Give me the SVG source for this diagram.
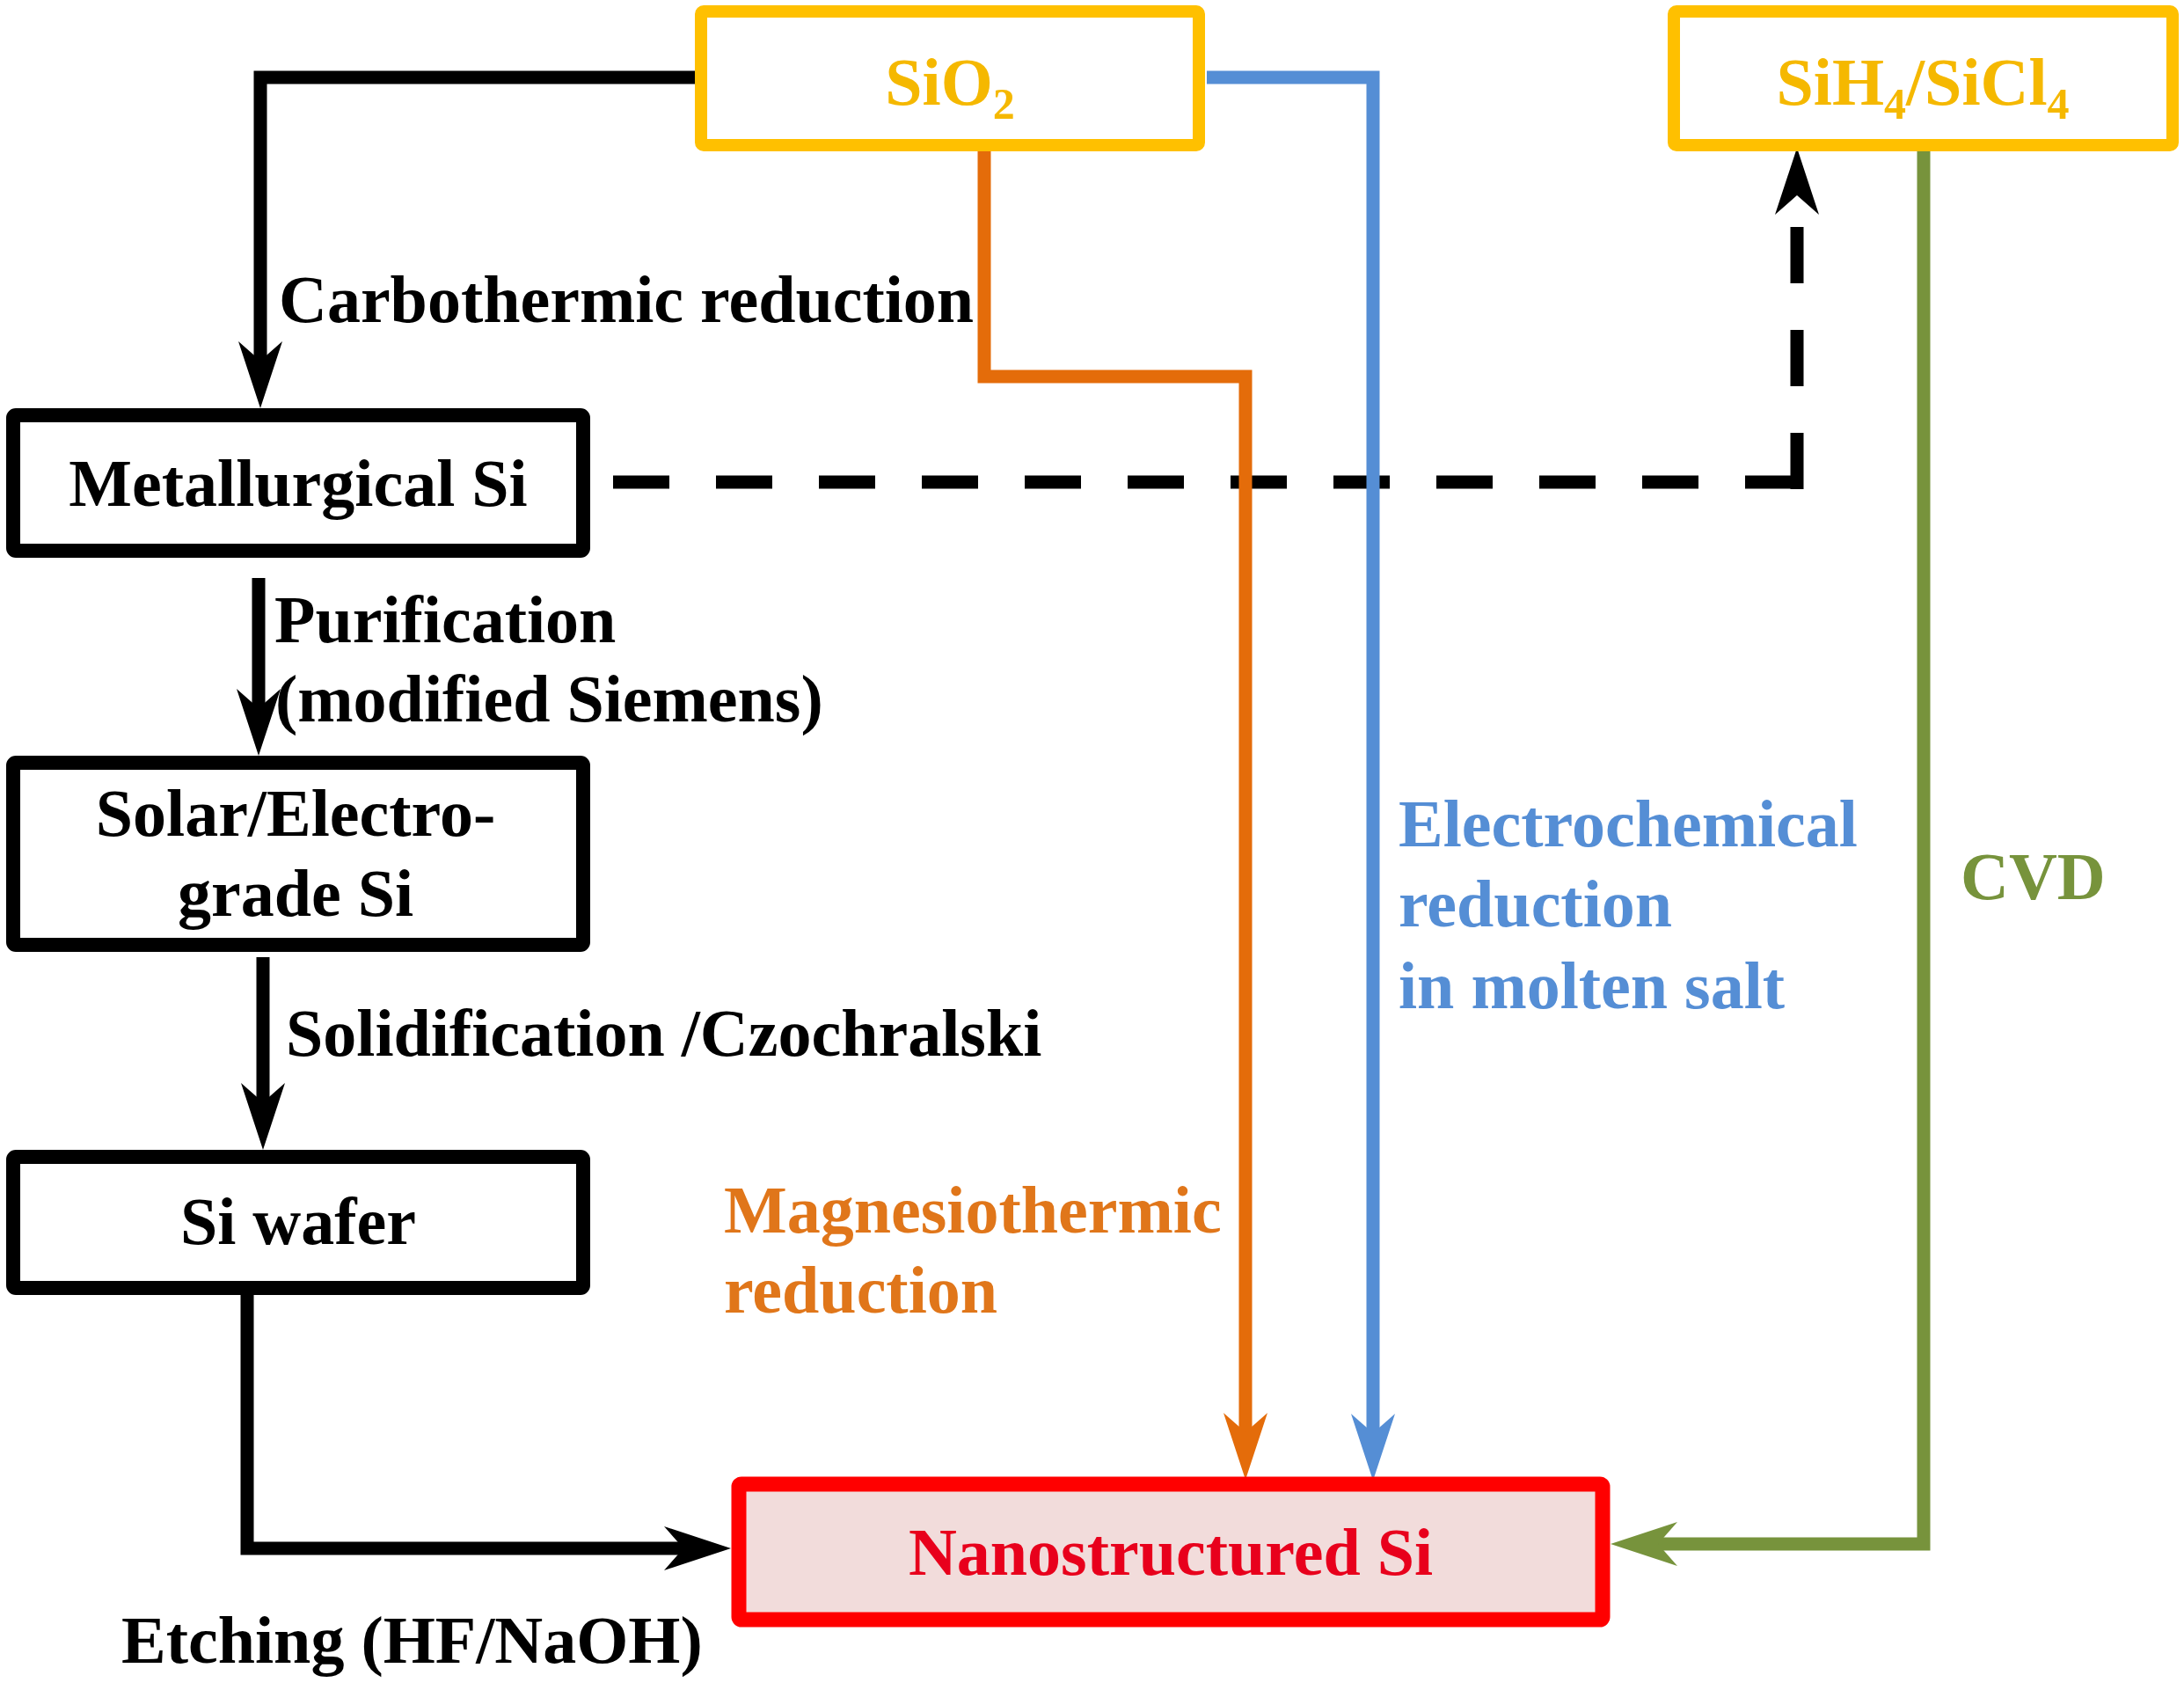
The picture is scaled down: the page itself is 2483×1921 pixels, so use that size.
<svg xmlns="http://www.w3.org/2000/svg" xmlns:xlink="http://www.w3.org/1999/xlink" width="2483" height="1921" viewBox="0 0 2483 1921">
<style>
  text { font-family: "Liberation Serif", "Times New Roman", serif; font-weight: bold; font-size: 76px; }
  .blk { fill: #000000; }
  .ylw { fill: #F5B800; }
  .org { fill: #E0761A; }
  .blu { fill: #558ED5; }
  .grn { fill: #77933C; }
  .red { fill: #E8001C; }
  .mid { text-anchor: middle; }
  .box { fill: #FFFFFF; stroke: #000000; stroke-width: 16; }
  .src { fill: #FFFFFF; stroke: #FFC000; stroke-width: 14; }
  .ln { fill: none; stroke-width: 15; stroke-linejoin: miter; stroke-linecap: butt; }
</style>
<defs>
  <path id="ah" d="M0,0 L-25,-76 L0,-54 L25,-76 Z"/>
</defs>
<rect x="0" y="0" width="2483" height="1921" fill="#FFFFFF"/>

<g id="connectors">
  <path class="ln" stroke="#000000" d="M790,88 H296 V425"/>
  <use xlink:href="#ah" fill="#000000" transform="translate(296,464)"/>
  <path class="ln" stroke="#000000" d="M294,657 V820"/>
  <use xlink:href="#ah" fill="#000000" transform="translate(294,859)"/>
  <path class="ln" stroke="#000000" d="M299,1088 V1270"/>
  <use xlink:href="#ah" fill="#000000" transform="translate(299,1307)"/>
  <path class="ln" stroke="#000000" d="M281,1472 V1760 H795"/>
  <use xlink:href="#ah" fill="#000000" transform="translate(831,1760) rotate(-90)"/>
  <path class="ln" stroke="#000000" stroke-width="17" stroke-dasharray="64 53" d="M697,548 H2051"/>
  <path class="ln" stroke="#000000" stroke-width="16" stroke-dasharray="64 53" d="M2043,556 V250"/>
  <use xlink:href="#ah" fill="#000000" transform="translate(2043,168) rotate(180)"/>
  <path class="ln" stroke="#E46C0A" d="M1119,172 V428 H1416 V1645"/>
  <use xlink:href="#ah" fill="#E46C0A" transform="translate(1416,1682)"/>
  <path class="ln" stroke="#558ED5" d="M1372,88 H1561 V1645"/>
  <use xlink:href="#ah" fill="#558ED5" transform="translate(1561,1683)"/>
  <path class="ln" stroke="#77933C" d="M2187,172 V1755 H1870"/>
  <use xlink:href="#ah" fill="#77933C" transform="translate(1831,1755) rotate(90)"/>
</g>

<g id="labels">
  <text class="blk" x="317" y="366">Carbothermic reduction</text>
  <text class="blk" x="312" y="730">Purification</text>
  <text class="blk" x="313" y="820">(modified Siemens)</text>
  <text class="blk" x="325" y="1200">Solidification /Czochralski</text>
  <text class="org" x="823" y="1401">Magnesiothermic</text>
  <text class="org" x="823" y="1492">reduction</text>
  <text class="blu" x="1590" y="962">Electrochemical</text>
  <text class="blu" x="1590" y="1053">reduction</text>
  <text class="blu" x="1590" y="1146">in molten salt</text>
  <text class="grn" x="2229" y="1022">CVD</text>
  <text class="blk" x="138" y="1890">Etching (HF/NaOH)</text>
</g>

<g id="node-sio2">
  <rect class="src" x="797" y="13" width="566" height="152" rx="3"/>
  <text class="ylw mid" x="1080" y="119">SiO<tspan font-size="50" dy="16">2</tspan></text>
</g>
<g id="node-sih4">
  <rect class="src" x="1903" y="13" width="567" height="152" rx="3"/>
  <text class="ylw mid" x="2186" y="119">SiH<tspan font-size="50" dy="16">4</tspan><tspan dy="-16">/SiCl</tspan><tspan font-size="50" dy="16">4</tspan></text>
</g>
<g id="node-metallurgical">
  <rect class="box" x="15" y="472" width="648" height="154" rx="3"/>
  <text class="blk mid" x="339" y="575">Metallurgical Si</text>
</g>
<g id="node-solar">
  <rect class="box" x="15" y="867" width="648" height="207" rx="3"/>
  <text class="blk mid" x="336" y="950">Solar/Electro-</text>
  <text class="blk mid" x="336" y="1041">grade Si</text>
</g>
<g id="node-wafer">
  <rect class="box" x="15" y="1315" width="648" height="149" rx="3"/>
  <text class="blk mid" x="339" y="1414">Si wafer</text>
</g>
<g id="node-nano">
  <rect x="840" y="1687" width="982" height="154" rx="3" fill="#F2DCDB" stroke="#FF0000" stroke-width="17"/>
  <text class="red mid" x="1331" y="1790">Nanostructured Si</text>
</g>
</svg>
